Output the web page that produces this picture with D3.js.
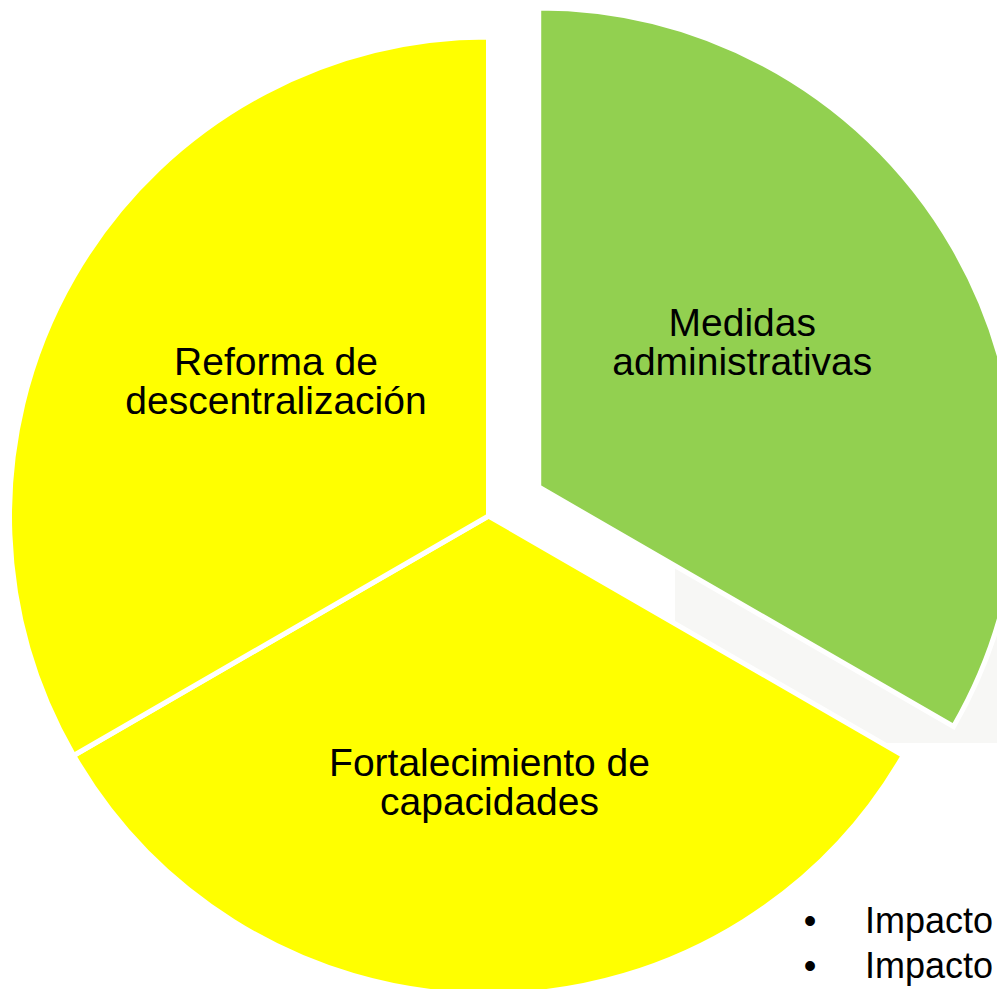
<!DOCTYPE html>
<html>
<head>
<meta charset="utf-8">
<script src="https://cdn.jsdelivr.net/npm/d3@7"></script>
<style>
  html, body { margin: 0; padding: 0; background: #fff; overflow: hidden; }
  svg { display: block; }
  text { font-family: "Liberation Sans", Arial, sans-serif; fill: #000; }
</style>
</head>
<body>
<svg id="chart" width="997" height="989"></svg>
<script>
// data
const categories = ["Medidas administrativas", "Fortalecimiento de capacidades", "Reforma de descentralización"];
const labelLines = [["Medidas", "administrativas"], ["Fortalecimiento de", "capacidades"], ["Reforma de", "descentralización"]];
const values = [1, 1, 1];
const exploded = [true, false, false];
const sliceColors = ["#92D050", "#FFFF00", "#FFFF00"];
const bulletItems = ["Impacto", "Impacto"];

const width = 997, height = 989;
const cx = 488.5, cy = 516;
const radius = 479;
const explodeOffset = 58;
const labelRadius = 250;
// small text-box nudges so labels sit like the original layout
const labelNudge = [[-13, -20], [1, 16], [4, -10]];

const svg = d3.select("#chart");

// faint background panel behind the exploded slice
svg.append("rect")
  .attr("x", 675)
  .attr("y", 567)
  .attr("width", width - 675)
  .attr("height", 176)
  .attr("fill", "#F7F7F5");

const pie = d3.pie()
  .sort(null)
  .value(d => d)
  .startAngle(0)
  .endAngle(2 * Math.PI);

const arcs = pie(values);

const arc = d3.arc()
  .innerRadius(0)
  .outerRadius(radius);

const labelArc = d3.arc()
  .innerRadius(labelRadius)
  .outerRadius(labelRadius);

function shift(d, i) {
  if (!exploded[i]) return [0, 0];
  const mid = (d.startAngle + d.endAngle) / 2;
  return [Math.sin(mid) * explodeOffset, -Math.cos(mid) * explodeOffset];
}

const g = svg.append("g")
  .attr("transform", `translate(${cx}, ${cy})`);

const slices = g.selectAll("g.slice")
  .data(arcs)
  .enter()
  .append("g")
  .attr("class", "slice")
  .attr("transform", (d, i) => {
    const [dx, dy] = shift(d, i);
    return `translate(${dx}, ${dy})`;
  });

slices.append("path")
  .attr("d", arc)
  .attr("fill", (d, i) => sliceColors[i])
  .attr("stroke", "#fff")
  .attr("stroke-width", 5)
  .attr("stroke-linejoin", "miter");

slices.append("title")
  .text((d, i) => categories[i]);

const fontSize = 39, lineGap = 39;

slices.append("text")
  .attr("text-anchor", "middle")
  .attr("font-size", fontSize)
  .attr("transform", (d, i) => {
    const [x, y] = labelArc.centroid(d);
    return `translate(${x + labelNudge[i][0]}, ${y + labelNudge[i][1]})`;
  })
  .each(function(d, i) {
    const lines = labelLines[i];
    const t = d3.select(this);
    lines.forEach((line, k) => {
      t.append("tspan")
        .attr("x", 0)
        .attr("y", (k - (lines.length - 1) / 2) * lineGap + fontSize * 0.35)
        .text(line);
    });
  });

// bullet list at bottom right, cut by the frame
const bullets = svg.append("g")
  .attr("font-size", 36);

bullets.selectAll("text.dot")
  .data(bulletItems)
  .enter()
  .append("text")
  .attr("class", "dot")
  .attr("x", 810)
  .attr("y", (d, i) => 933 + i * 45)
  .attr("text-anchor", "middle")
  .text("•");

bullets.selectAll("text.item")
  .data(bulletItems)
  .enter()
  .append("text")
  .attr("class", "item")
  .attr("x", 865)
  .attr("y", (d, i) => 933 + i * 45)
  .text(d => d);
</script>
</body>
</html>
